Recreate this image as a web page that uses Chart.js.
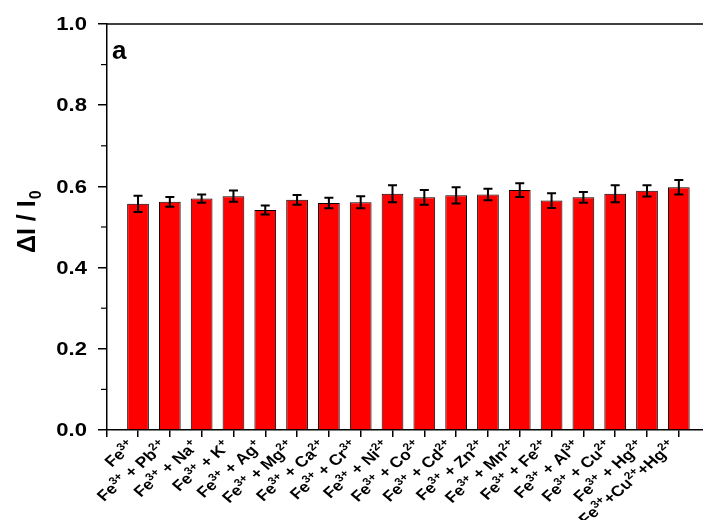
<!DOCTYPE html>
<html>
<head>
<meta charset="utf-8">
<script src="https://cdn.jsdelivr.net/npm/chart.js@4/dist/chart.umd.min.js"></script>
<style>
  html, body { margin: 0; padding: 0; background: #ffffff; }
  #wrap { width: 703px; height: 520px; }
</style>
</head>
<body>
<div id="wrap"><canvas id="c" width="703" height="520"></canvas></div>
<script>
// Ion labels; "^{...}" marks a superscript charge
const categories = [
  'Fe^{3+}',
  'Fe^{3+} + Pb^{2+}',
  'Fe^{3+} + Na^{+}',
  'Fe^{3+} + K^{+}',
  'Fe^{3+} + Ag^{+}',
  'Fe^{3+} + Mg^{2+}',
  'Fe^{3+} + Ca^{2+}',
  'Fe^{3+} + Cr^{3+}',
  'Fe^{3+} + Ni^{2+}',
  'Fe^{3+} + Co^{2+}',
  'Fe^{3+} + Cd^{2+}',
  'Fe^{3+} + Zn^{2+}',
  'Fe^{3+} + Mn^{2+}',
  'Fe^{3+} + Fe^{2+}',
  'Fe^{3+} + Al^{3+}',
  'Fe^{3+} + Cu^{2+}',
  'Fe^{3+} + Hg^{2+}',
  'Fe^{3+}+Cu^{2+}+Hg^{2+}'
];

// Relative fluorescence change ΔI / I0 and its standard deviation
const values = [0.557, 0.562, 0.570, 0.576, 0.542, 0.567, 0.559, 0.561, 0.582,
                0.573, 0.578, 0.580, 0.591, 0.565, 0.573, 0.582, 0.589, 0.598];
const errors = [0.020, 0.012, 0.010, 0.014, 0.011, 0.012, 0.013, 0.015, 0.021,
                0.018, 0.020, 0.014, 0.017, 0.018, 0.013, 0.021, 0.014, 0.018];

const yMajorTicks = [0.0, 0.2, 0.4, 0.6, 0.8, 1.0];
const yMinorTicks = [0.1, 0.3, 0.5, 0.7, 0.9];

const FONT = "'Liberation Sans', Arial, sans-serif";
const WIDEN = 1.16;   // glyphs are drawn slightly wide

// Error bars with end caps
const errorBars = {
  id: 'errorBars',
  afterDatasetsDraw(chart) {
    const xs = chart.scales.x, ys = chart.scales.y, c = chart.ctx;
    c.save();
    c.strokeStyle = '#000';
    c.lineWidth = 2;
    values.forEach((v, i) => {
      const x = xs.getPixelForValue(i);
      const yt = ys.getPixelForValue(v + errors[i]);
      const yb = ys.getPixelForValue(v - errors[i]);
      const hw = 4.5;
      c.beginPath();
      c.moveTo(x, yt); c.lineTo(x, yb);
      c.moveTo(x - hw, yt); c.lineTo(x + hw, yt);
      c.moveTo(x - hw, yb); c.lineTo(x + hw, yb);
      c.stroke();
    });
    c.restore();
  }
};

function splitSup(str) {
  return str.split(/(\^\{[^}]*\})/).filter(s => s.length).map(s =>
    s[0] === '^' ? { t: s.slice(2, -1), sup: true } : { t: s, sup: false });
}

// Frame, minor ticks, tick labels, rotated category labels, axis title and panel letter
const decorations = {
  id: 'decorations',
  afterDraw(chart) {
    const c = chart.ctx, a = chart.chartArea;
    const xs = chart.scales.x, ys = chart.scales.y;
    c.save();
    c.strokeStyle = '#000';
    c.lineWidth = 1.5;
    c.beginPath();
    c.moveTo(a.left, a.top); c.lineTo(a.right, a.top);
    c.stroke();

    c.lineWidth = 1.2;
    yMinorTicks.forEach(v => {
      const y = ys.getPixelForValue(v);
      c.beginPath();
      c.moveTo(a.left - 6, y); c.lineTo(a.left, y);
      c.stroke();
    });

    // y tick labels
    c.fillStyle = '#000';
    c.font = 'bold 19px ' + FONT;
    c.textAlign = 'right';
    c.textBaseline = 'middle';
    yMajorTicks.forEach(v => {
      const y = ys.getPixelForValue(v);
      c.save();
      c.translate(a.left - 20, y + 1);
      c.scale(WIDEN, 1);
      c.fillText(v.toFixed(1), 0, 0);
      c.restore();
    });

    // category labels
    const mainFont = 'bold 15px ' + FONT;
    const supFont = 'bold 10.5px ' + FONT;
    c.textBaseline = 'alphabetic';
    c.textAlign = 'left';
    categories.forEach((lab, i) => {
      const parts = splitSup(lab);
      let total = 0;
      parts.forEach(p => { c.font = p.sup ? supFont : mainFont; p.w = c.measureText(p.t).width; total += p.w; });
      const px = xs.getPixelForValue(i);
      c.save();
      c.translate(px - 2, a.bottom + 17);
      c.scale(WIDEN, 1);
      c.rotate(-Math.PI / 4);
      let x = -total;
      parts.forEach(p => {
        c.font = p.sup ? supFont : mainFont;
        c.fillText(p.t, x, p.sup ? -6 : 0);
        x += p.w;
      });
      c.restore();
    });

    // y-axis title ΔI / I0
    c.save();
    c.translate(35, 253);
    c.rotate(-Math.PI / 2);
    c.font = 'bold 25px ' + FONT;
    c.fillText('\u0394I / I', 0, 0);
    const w = c.measureText('\u0394I / I').width;
    c.font = 'bold 16px ' + FONT;
    c.fillText('0', w + 1, 6);
    c.restore();

    // panel letter
    c.font = 'bold 26px ' + FONT;
    c.fillText('a', 112, 59);
    c.restore();
  }
};

new Chart(document.getElementById('c'), {
  type: 'bar',
  data: {
    datasets: [{
      data: values.map((v, i) => ({ x: i, y: v })),
      backgroundColor: '#ff0000',
      borderColor: '#000000',
      borderWidth: 1,
      categoryPercentage: 1.0,
      barPercentage: 0.7
    }]
  },
  options: {
    responsive: false,
    animation: false,
    devicePixelRatio: 1,
    layout: { padding: { top: 24, right: 0, bottom: 0, left: 0 } },
    plugins: { legend: { display: false }, tooltip: { enabled: false } },
    scales: {
      x: {
        type: 'linear',
        offset: false,
        min: -0.975,
        max: 17.76,
        afterBuildTicks(s) {
          s.ticks = [{ value: s.min }].concat(categories.map((_, i) => ({ value: i })));
        },
        afterFit(s) { s.height = 90; },
        ticks: { display: false },
        grid: { offset: false, drawOnChartArea: false, drawTicks: true, tickLength: 7, color: '#000', lineWidth: 1.5 },
        border: { display: true, color: '#000', width: 1.5 }
      },
      y: {
        min: 0,
        max: 1.0,
        afterBuildTicks(s) { s.ticks = yMajorTicks.map(v => ({ value: v })); },
        afterFit(s) { s.width = 107; },
        ticks: { display: false },
        grid: { drawOnChartArea: false, drawTicks: true, tickLength: 9, color: '#000', lineWidth: 1.5 },
        border: { display: true, color: '#000', width: 1.5 }
      }
    }
  },
  plugins: [errorBars, decorations]
});
</script>
</body>
</html>
